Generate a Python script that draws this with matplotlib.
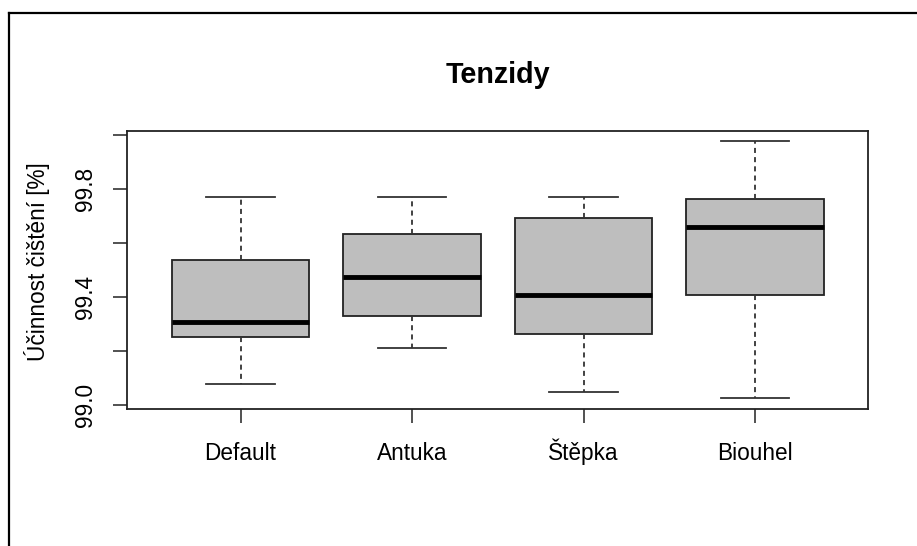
import matplotlib
matplotlib.use("Agg")
import matplotlib.pyplot as plt
from matplotlib.lines import Line2D

plt.rcParams['font.family'] = ['Liberation Sans', 'DejaVu Sans']

# hodnoty
skupiny = ["Default", "Antuka", "Štěpka", "Biouhel"]
dolni_vous = [99.078, 99.212, 99.046, 99.025]
q1 = [99.251, 99.329, 99.263, 99.406]
median = [99.306, 99.473, 99.406, 99.661]
q3 = [99.537, 99.634, 99.693, 99.765]
horni_vous = [99.771, 99.771, 99.772, 99.978]

y_ticks = [99.0, 99.2, 99.4, 99.6, 99.8, 100.0]
y_labels = ["99.0", "", "99.4", "", "99.8", ""]

stats = []
for i in range(len(skupiny)):
    stats.append({
        "label": skupiny[i],
        "whislo": dolni_vous[i],
        "q1": q1[i],
        "med": median[i],
        "q3": q3[i],
        "whishi": horni_vous[i],
        "fliers": [],
    })

fig = plt.figure(figsize=(9.17, 5.46), dpi=100)
ax = fig.add_axes([127.3 / 917, 1 - 408.7 / 546, (868.3 - 127.3) / 917, (408.7 - 131) / 546])

ax.bxp(stats, positions=[1, 2, 3, 4], widths=0.8, patch_artist=True,
       boxprops=dict(facecolor="#bebebe", edgecolor="#222222", linewidth=1.3),
       medianprops=dict(color="black", linewidth=3.5, solid_capstyle="butt"),
       whiskerprops=dict(color="#333333", linewidth=1.3, linestyle=(0, (2.8, 2.3))),
       capprops=dict(color="#333333", linewidth=1.3),
       showfliers=False)

ax.set_xlim(0.34, 4.66)
ax.set_ylim(98.985, 100.016)
ax.set_yticks(y_ticks)
ax.set_yticklabels(y_labels, rotation=90, va="center")
ax.set_xticks([1, 2, 3, 4])
ax.set_xticklabels(skupiny, va="baseline")
ax.tick_params(axis="both", length=10, width=1.1, color="#222222", labelsize=16.3)
ax.tick_params(axis="y", pad=12)
ax.tick_params(axis="x", pad=27)
for s in ax.spines.values():
    s.set_linewidth(1.3)
    s.set_color("#222222")

fig.text(498 / 917, 1 - 82.7 / 546, "Tenzidy", ha="center", va="baseline",
         fontsize=20.7, fontweight="bold")
fig.text(37 / 917, 1 - 262 / 546, "Účinnost čištění [%]", rotation=90,
         ha="center", va="center", fontsize=16.3)

# rámeček kolem obrázku
fig.add_artist(Line2D([9 / 917, 1], [1 - 13 / 546, 1 - 13 / 546], color="black", linewidth=1.6))
fig.add_artist(Line2D([9 / 917, 9 / 917], [0, 1 - 13 / 546], color="black", linewidth=1.6))

fig.savefig("out.png", dpi=100)
